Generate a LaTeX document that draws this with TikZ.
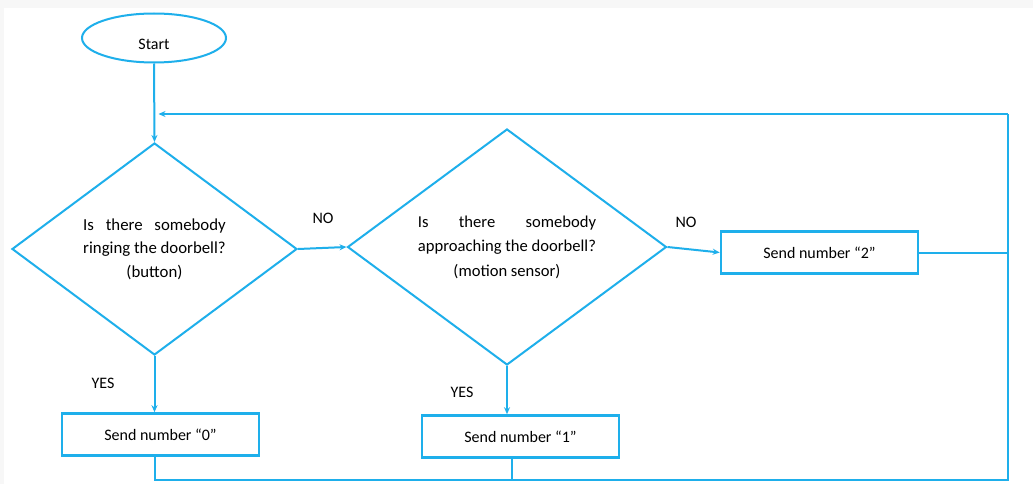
\documentclass[tikz,border=0pt]{standalone}
\usepackage{fontspec}
\setmainfont{Carlito}
\usetikzlibrary{arrows.meta,shapes.geometric}
\definecolor{flow}{RGB}{30,175,235}
% first line spread to the width of the second
\newcommand\spreadas[2]{\setbox0\hbox{#2}\makebox[\wd0][s]{#1}\\#2}

\begin{document}
\begin{tikzpicture}[x=1pt,y=-1pt,>={Stealth[length=7pt,width=6pt]},
  flowline/.style={draw=flow,line width=2pt},
  term/.style={flowline,ellipse,minimum width=144pt,minimum height=49pt,inner sep=0pt},
  dec/.style={flowline,diamond,aspect=1.35,inner sep=0pt,align=center},
  proc/.style={draw=flow,line width=2.6pt,minimum width=197pt,minimum height=42pt,inner sep=0pt},
  lbl/.style={inner sep=0pt},
  every node/.style={font=\fontsize{16}{19}\selectfont}]
\useasboundingbox (0,0) rectangle (1033,484);
\fill[gray!6] (0,0) rectangle (1033,484);
\fill[white] (4,8) rectangle (1033,484);
% shapes
\node[term,label={[yshift=-6pt]center:Start}] (start) at (154,38) {};
\node[dec,font=\fontsize{16.8}{23.5}\selectfont] (d1) at (154.5,249) [minimum width=285pt,minimum height=212pt]
  {\spreadas{Is there somebody}{ringing the doorbell?}\\(button)};
\node[dec,font=\fontsize{16.6}{24.5}\selectfont] (d2) at (507,247) [minimum width=319pt,minimum height=236pt]
  {\spreadas{Is there somebody}{approaching the doorbell?}\\(motion sensor)};
\node[proc] (s0) at (160.5,434.5) {Send number “0”};
\node[proc] (s1) at (520.5,436.5) {Send number “1”};
\node[proc] (s2) at (819.5,252.5) {Send number “2”};
\coordinate (tr) at (1008,114);
\coordinate (br) at (1008,480);
% labels
\node[lbl] (no1) at (323,218) {NO};
\node[lbl] (no2) at (686,222) {NO};
\node[lbl] (yes1) at (103,383) {YES};
\node[lbl] (yes2) at (462,392) {YES};
% connectors
\draw[flowline,->] (start.south) -- (d1.north);
\draw[flowline,->] (tr) -- ([xshift=4pt]tr -| d1.north);
\draw[flowline,->] (d1.east) -- (d2.west);
\draw[flowline,->] (d2.east) -- (s2.west);
\draw[flowline] (s2.east) -- (s2.east -| tr);
\draw[flowline,->] (d1.south) -- (d1.south |- s0.north);
\draw[flowline,->] (d2.south) -- (d2.south |- s1.north);
\draw[flowline] (d1.south |- s0.south) -- (d1.south |- br) -- (br) -- (tr);
\draw[flowline] ([xshift=5pt]d2.south |- s1.south) -- ([xshift=5pt]d2.south |- br);
\end{tikzpicture}
\end{document}
